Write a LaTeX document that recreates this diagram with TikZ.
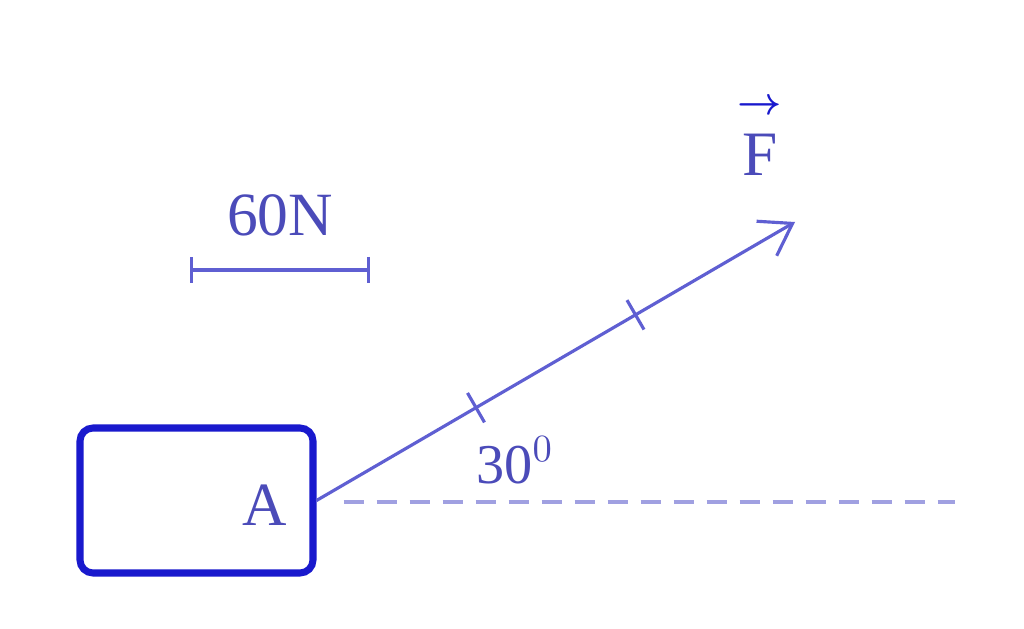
\documentclass[tikz,border=0pt]{standalone}
\usepackage{amsmath}
\usepackage{fontspec}
\setmainfont{Liberation Serif}
\usetikzlibrary{arrows.meta,positioning}
\definecolor{boxblue}{RGB}{25,25,205}
\definecolor{lineblue}{RGB}{95,95,210}
\definecolor{textblue}{RGB}{75,75,185}
\definecolor{dashblue}{RGB}{160,160,225}
\begin{document}
\begin{tikzpicture}[>={Straight Barb[length=3mm,width=4mm]},
    body node/.style={rectangle, draw=boxblue, line width=2pt, rounded corners=1.3mm,
        minimum width=2.33cm, minimum height=1.45cm, inner sep=0pt},
    label node/.style={text=textblue, font=\fontsize{17.5}{20}\selectfont, inner sep=1pt},
    force line/.style={draw=lineblue, line width=0.9pt}]

    \useasboundingbox (0,0) rectangle (10.24,6.29);

    \node[body node] (body) at (1.965,1.285) {};
    \node[label node] (A) at (2.65,1.24) {A};
    \coordinate (tip) at (7.95,4.07);
    \coordinate (horiz) at (9.55,1.27);

    % reference line
    \draw[dashblue, line width=0.9pt, dash pattern=on 2mm off 1.3mm] (body.east) ++(0.27,-0.015) -- (horiz);

    % force vector with 60N steps
    \draw[force line, ->] (body.east) -- (tip)
        coordinate[pos=1/3] (step1) coordinate[pos=2/3] (step2);
    \draw[force line] (step1) ++(120:0.17) -- ++(-60:0.34);
    \draw[force line] (step2) ++(120:0.17) -- ++(-60:0.34);
    \node[label node, font=\fontsize{16}{18}\selectfont] (angle) at (5.15,1.69) {30$^{0}$};
    \node[label node, font=\fontsize{18}{20}\selectfont] (F) at (7.60,4.74) {F};
    \node[text=boxblue, inner sep=0pt, font=\fontsize{11}{13}\selectfont] (Farrow) at (7.60,5.22) {$\boldsymbol{\rightarrow}$};

    % scale
    \coordinate (scaleL) at (1.90,3.59);
    \coordinate (scaleR) at (3.70,3.59);
    \draw[force line, {Bar[width=2.6mm]}-{Bar[width=2.6mm]}] (scaleL) -- (scaleR);
    \node[label node] (unit) at (2.80,4.14) {60N};

\end{tikzpicture}
\end{document}
